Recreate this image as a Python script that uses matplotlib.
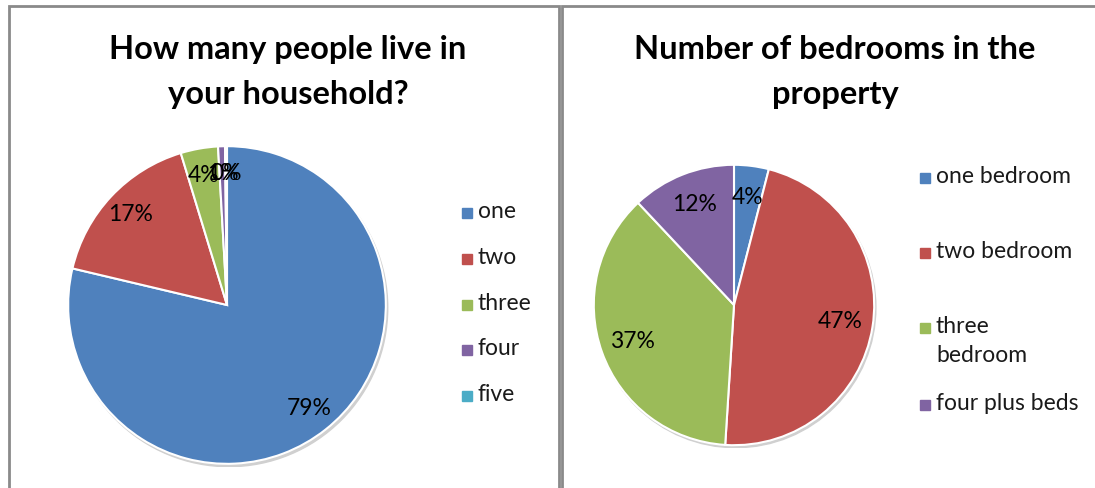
import matplotlib
matplotlib.use("Agg")
import matplotlib.pyplot as plt
from matplotlib.patches import Rectangle, Circle

# Datos
people_labels = ["one", "two", "three", "four", "five"]
people_values = [78.7, 16.6, 3.8, 0.7, 0.2]

bed_labels = ["one bedroom", "two bedroom", "three\nbedroom", "four plus beds"]
bed_values = [4, 47, 37, 12]

colors = ["#4F81BD", "#C0504D", "#9BBB59", "#8064A2", "#4BACC6"]

W, H = 1095, 488
plt.rcParams["font.family"] = ["Lato", "DejaVu Sans"]
fig = plt.figure(figsize=(W / 100, H / 100), dpi=100)


def px_axes(cx, cy, r):
    # ejes cuadrados centrados en (cx, cy) en pixeles (y desde arriba)
    ax = fig.add_axes([(cx - r) / W, (H - cy - r) / H, 2 * r / W, 2 * r / H])
    ax.set_aspect("equal")
    ax.axis("off")
    return ax


def draw_pie(ax, values, cols, pctd):
    ax.add_patch(Circle((0.012, -0.018), 1.0, color="#d0d0d0", zorder=0))
    ax.pie(values, colors=cols, startangle=90, counterclock=False, radius=1.0,
           autopct="%.0f%%", pctdistance=pctd,
           wedgeprops=dict(edgecolor="white", linewidth=1.5),
           textprops=dict(fontsize=16.5, color="black"))
    ax.set_xlim(-1.02, 1.02)
    ax.set_ylim(-1.02, 1.02)


def legend(labels, cols, x, ys):
    for lab, c, y in zip(labels, cols, ys):
        fig.patches.append(Rectangle((x / W, (H - y - 5) / H), 10 / W, 10 / H,
                                     transform=fig.transFigure, color=c))
        fig.text((x + 16) / W, (H - y + 12) / H, lab, fontsize=16.5, va="top",
                 ha="left", color="#1a1a1a", linespacing=1.5)


# bordes de los paneles
for x0, x1 in [(9, 559), (562, 1100)]:
    fig.patches.append(Rectangle((x0 / W, -0.05), (x1 - x0) / W, (H - 6) / H + 0.05,
                                 transform=fig.transFigure, fill=False,
                                 edgecolor="#8a8a8a", linewidth=2.0))

# panel izquierdo
ax1 = px_axes(227, 305, 162)
draw_pie(ax1, people_values, colors, 0.83)
fig.text(288 / W, (H - 72) / H, "How many people live in\nyour household?",
         ha="center", va="center", fontsize=23.5, fontweight="bold",
         linespacing=1.68)
legend(people_labels, colors, 462, [213, 259, 305, 350, 396])

# panel derecho
ax2 = px_axes(734, 305, 143)
draw_pie(ax2, bed_values, colors[:4], 0.77)
fig.text(835 / W, (H - 72) / H, "Number of bedrooms in the\nproperty",
         ha="center", va="center", fontsize=23.5, fontweight="bold",
         linespacing=1.68)
legend(bed_labels, colors[:4], 920, [178, 253, 328, 405])

fig.savefig("out.png", dpi=100)
